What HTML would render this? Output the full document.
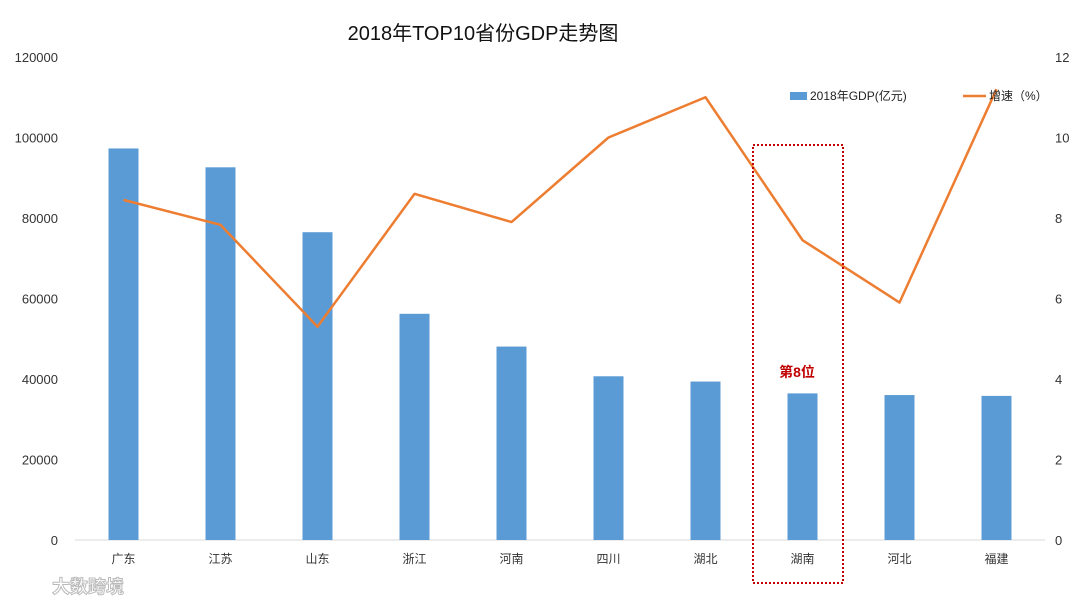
<!DOCTYPE html>
<html><head><meta charset="utf-8"><style>
body{margin:0;background:#fff;}
svg text{font-family:"Liberation Sans","Noto Sans CJK SC",sans-serif;}
</style></head><body>
<svg id="chart" width="1080" height="607">
<text x="483" y="40" text-anchor="middle" font-size="20" fill="#111">2018年TOP10省份GDP走势图</text>
<g id="axes"></g><g id="bars"></g><g id="line"></g>
<g>
<rect x="790" y="92" width="17" height="8" fill="#5b9bd5"/>
<text x="810" y="100" font-size="12" fill="#222">2018年GDP(亿元)</text>
<line x1="963" y1="96" x2="986" y2="96" stroke="#ed7d31" stroke-width="2.5"/>
<text x="989" y="100" font-size="12" fill="#222">增速（%）</text>
</g>
<rect x="753" y="145" width="90" height="438" fill="none" stroke="#c00000" stroke-width="2" stroke-dasharray="2,2"/>
<text x="797" y="377" text-anchor="middle" font-size="14" font-weight="bold" fill="#c00000">第8位</text>
<text x="52" y="593" font-size="18" font-weight="bold" fill="#fff" stroke="#bbb" stroke-width="1">大数跨境</text>
</svg>
<script>
const categories=["广东","江苏","山东","浙江","河南","四川","湖北","湖南","河北","福建"];
const gdpValues=[97278,92595,76470,56197,48056,40678,39367,36426,36010,35804];
const growthValues=[8.45,7.83,5.3,8.6,7.9,10.0,11.0,7.45,5.9,11.2];
const leftTicks=[0,20000,40000,60000,80000,100000,120000];
const rightTicks=[0,2,4,6,8,10,12];
const NS="http://www.w3.org/2000/svg";
const top0=57,bot=540,x0=75,step=97;
const yL=v=>bot-(v/120000)*(bot-top0);
const yR=v=>bot-(v/12)*(bot-top0);
const xC=i=>x0+step*(i+0.5);
function mk(tag,attrs,parent){const e=document.createElementNS(NS,tag);for(const k in attrs)e.setAttribute(k,attrs[k]);document.getElementById(parent).appendChild(e);return e;}
const ax=mk("line",{x1:x0,x2:x0+step*10,y1:bot,y2:bot,stroke:"#d9d9d9"},"axes");


leftTicks.forEach(t=>{const e=mk("text",{x:58,y:yL(t)+5,"text-anchor":"end","font-size":13,fill:"#333"},"axes");e.textContent=t;

});
rightTicks.forEach(t=>{const e=mk("text",{x:1055,y:yR(t)+5,"font-size":13,fill:"#333"},"axes");e.textContent=t;

});
categories.forEach((c,i)=>{const e=mk("text",{x:xC(i),y:563,"text-anchor":"middle","font-size":12,fill:"#333"},"axes");e.textContent=c;


const b=mk("rect",{x:xC(i)-15,y:yL(gdpValues[i]),width:30,height:bot-yL(gdpValues[i]),fill:"#5b9bd5"},"bars");

});
const pl=mk("polyline",{points:growthValues.map((v,i)=>xC(i)+","+yR(v)).join(" "),fill:"none",stroke:"#ed7d31","stroke-width":2.5,"stroke-linejoin":"round"},"line");


</script>
</body></html>
